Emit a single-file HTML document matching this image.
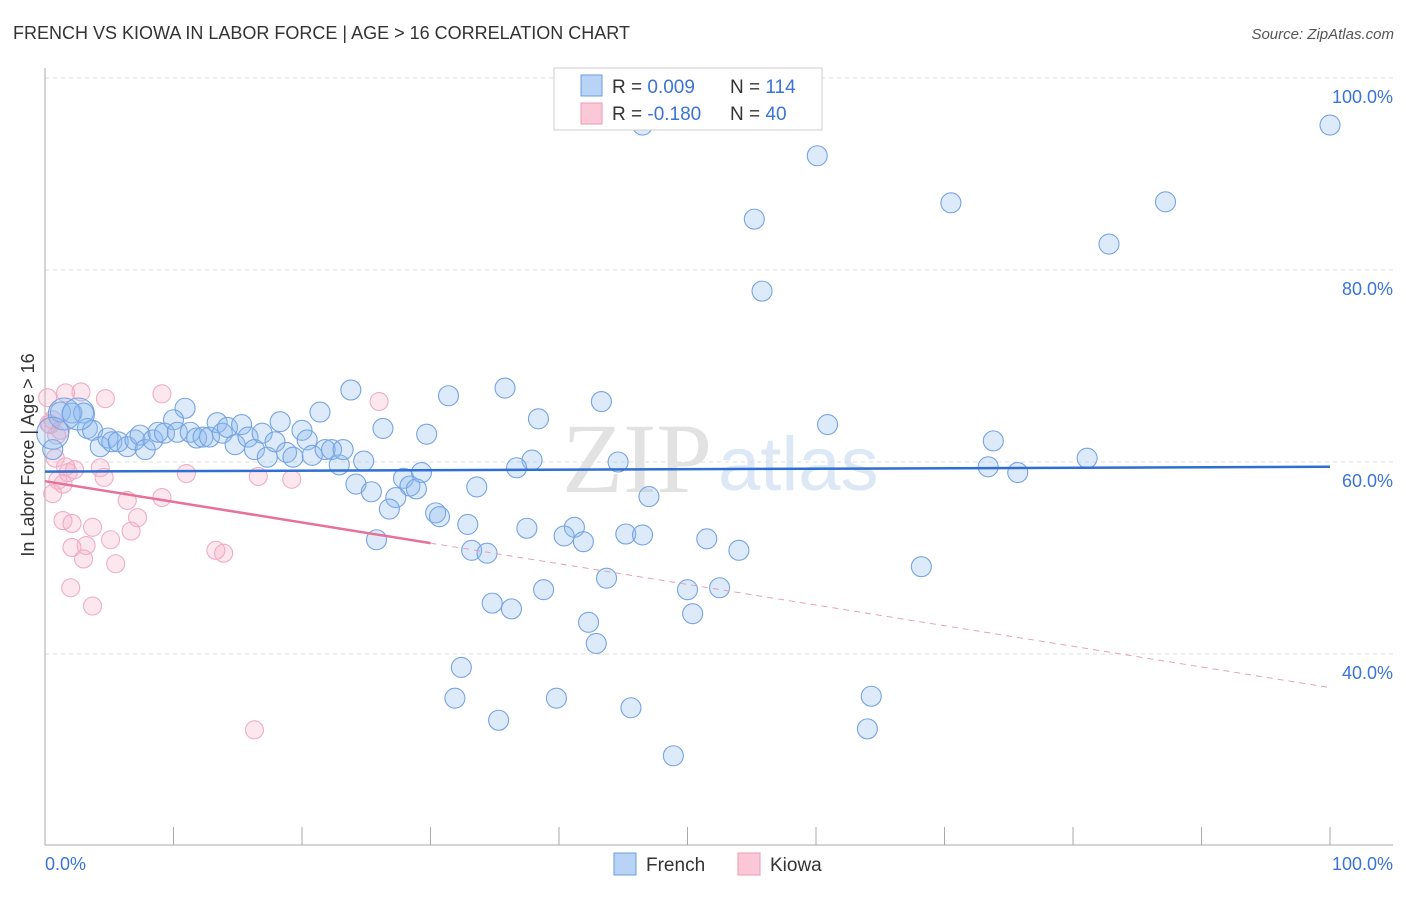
<!DOCTYPE html>
<html><head><meta charset="utf-8"><style>
body{margin:0;background:#fff;font-family:"Liberation Sans",sans-serif}
</style></head><body>
<svg width="1406" height="892" xmlns="http://www.w3.org/2000/svg">
<text x="13" y="39" font-size="18" fill="#333">FRENCH VS KIOWA IN LABOR FORCE | AGE &gt; 16 CORRELATION CHART</text>
<text x="1394" y="39" font-size="15" fill="#555" font-style="italic" text-anchor="end">Source: ZipAtlas.com</text>
<text x="712" y="492" font-size="100" fill="#e2e2e2" text-anchor="end" font-family="Liberation Serif,serif">ZIP</text>
<text x="718" y="490" font-size="76" fill="#dce8f6">atlas</text>
<g id="grid"></g>
<g id="marks"></g>
<text transform="translate(34,455) rotate(-90)" font-size="18" fill="#333" text-anchor="middle">In Labor Force | Age &gt; 16</text>
<text x="45" y="870" font-size="18" fill="#3b74d6">0.0%</text>
<text x="1393" y="870" font-size="18" fill="#3b74d6" text-anchor="end">100.0%</text>
<g>
<rect x="554" y="68" width="268" height="62" fill="#fff" stroke="#ccc"/>
<rect x="581" y="75" width="21" height="21" fill="#b8d3f5" stroke="#6a9ee0"/>
<rect x="581" y="103" width="21" height="21" fill="#fbc8d8" stroke="#ec9ab8"/>
<text x="612" y="93" font-size="19" fill="#333">R = <tspan fill="#3b74d6">0.009</tspan><tspan x="730">N = </tspan><tspan fill="#3b74d6">114</tspan></text>
<text x="612" y="120" font-size="19" fill="#333">R = <tspan fill="#3b74d6">-0.180</tspan><tspan x="730">N = </tspan><tspan fill="#3b74d6"> 40</tspan></text>
</g>
<g>
<rect x="614" y="853" width="22" height="22" fill="#b8d3f5" stroke="#6a9ee0"/>
<text x="646" y="871" font-size="19" fill="#333">French</text>
<rect x="738" y="853" width="22" height="22" fill="#fbc8d8" stroke="#ec9ab8"/>
<text x="770" y="871" font-size="19" fill="#333">Kiowa</text>
</g>
</svg>
<script>
const yTicks=[40,60,80,100];
const frenchX=[46.5,100,60.1,70.5,87.2,55.2,82.8,55.8,23.8,35.8,31.4,43.3,21.4,38.4,10.9,60.9,26.3,29.7,73.8,81.1,73.4,75.7,44.6,37.9,36.7,24.8,22.9,29.3,27.9,24.2,33.6,28.4,28.9,25.4,27.3,26.8,47.0,30.4,30.7,32.9,37.5,41.2,40.4,41.9,45.2,46.5,51.5,25.8,54.0,33.2,34.4,68.2,43.7,38.8,50.0,52.5,34.8,36.3,50.4,42.3,42.9,32.4,31.9,39.8,64.3,45.6,35.3,64.0,48.9,
1.2,2.1,3.0,3.3,3.7,0.6,4.3,4.9,5.2,5.7,6.4,7.0,7.4,7.8,8.4,8.8,9.3,10.0,10.3,11.3,11.8,12.3,12.8,13.4,13.8,14.2,14.8,15.3,15.8,16.3,16.9,17.3,17.9,18.3,18.8,19.3,20.0,20.4,20.8,21.8,22.3,23.2,1.5,0.6,2.6];
const frenchY=[95.1,95.1,91.9,87.0,87.1,85.3,82.7,77.8,67.5,67.7,66.9,66.3,65.2,64.5,65.6,63.9,63.5,62.9,62.2,60.4,59.5,58.9,60.0,60.2,59.4,60.1,59.7,58.9,58.3,57.7,57.4,57.5,57.2,56.9,56.3,55.1,56.4,54.7,54.3,53.5,53.1,53.2,52.3,51.7,52.5,52.4,52.0,51.9,50.8,50.8,50.5,49.1,47.9,46.7,46.7,46.9,45.3,44.7,44.2,43.3,41.1,38.6,35.4,35.4,35.6,34.4,33.1,32.2,29.4,
65.2,65.1,65.1,63.5,63.3,61.3,61.6,62.5,62.1,62.1,61.6,62.3,62.8,61.3,62.3,63.1,63.0,64.4,63.1,63.1,62.5,62.6,62.6,64.1,63.0,63.6,61.8,63.9,62.6,61.3,63.0,60.5,62.1,64.2,61.0,60.5,63.3,62.3,60.7,61.3,61.3,61.3,65.0,63.0,65.0];
const kiowaX=[0.2,1.6,2.8,4.7,9.1,26.0,0.6,1.2,0.8,1.6,1.8,2.3,4.3,4.6,11.0,16.6,19.2,1.0,1.4,0.6,6.4,9.1,7.2,1.4,2.1,3.7,6.7,5.1,2.1,3.2,3.0,5.5,13.3,13.9,2.0,3.7,16.3,0.4,0.9,0.3];
const kiowaY=[66.7,67.2,67.3,66.6,67.1,66.3,64.4,63.3,60.4,59.5,58.9,59.2,59.4,58.4,58.8,58.5,58.2,58.1,57.7,56.7,56.0,56.3,54.2,53.9,53.6,53.2,52.8,51.9,51.1,51.3,49.9,49.4,50.8,50.5,46.9,45.0,32.1,63.9,62.8,64.0];
const frenchTrend=[59.0,59.5];
const kiowaTrend=[58.0,36.5];
const kiowaSolidEnd=30;
const NS="http://www.w3.org/2000/svg";
const X=v=>45+v*12.85, Y=v=>462-(v-60)*9.6;
function mk(tag,attrs,parent){const e=document.createElementNS(NS,tag);for(const k in attrs)e.setAttribute(k,attrs[k]);parent.appendChild(e);return e;}
const grid=document.getElementById('grid'), marks=document.getElementById('marks');
yTicks.forEach(t=>{
 const l=mk('line',{x1:45,x2:1393,y1:Y(t),y2:Y(t),stroke:'#ddd','stroke-dasharray':'4,4'},grid);
 
 
 const tx=mk('text',{x:1393,y:Y(t)+25,'font-size':18,fill:'#3b74d6','text-anchor':'end'},grid);
 tx.textContent=t.toFixed(1)+'%';
 
 
});
const ax=mk('line',{x1:45,x2:45,y1:68,y2:845,stroke:'#aaa'},grid);


const bx=mk('line',{x1:45,x2:1393,y1:845,y2:845,stroke:'#aaa'},grid);


for(let k=1;k<=10;k++){const t=mk('line',{x1:X(k*10),x2:X(k*10),y1:827,y2:845,stroke:'#aaa'},grid);
 
 }
kiowaX.forEach((x,i)=>{const c=mk('circle',{cx:X(x),cy:Y(kiowaY[i]),r:9,fill:'rgba(246,175,200,0.3)',stroke:'#efadc5','stroke-width':1.1},marks);
 
 });
frenchX.forEach((x,i)=>{const big=i>=frenchX.length-3;const c=mk('circle',{cx:X(x),cy:Y(frenchY[i]),r:big?16:10,fill:'rgba(140,185,240,0.3)',stroke:'#76a4e2','stroke-width':1.1},marks);
 
 });
const ft=mk('line',{x1:X(0),y1:Y(frenchTrend[0]),x2:X(100),y2:Y(frenchTrend[1]),stroke:'#2f6fd4','stroke-width':2.5},marks);


const ky=x=>kiowaTrend[0]+(kiowaTrend[1]-kiowaTrend[0])*x/100;
const ks=mk('line',{x1:X(0),y1:Y(ky(0)),x2:X(kiowaSolidEnd),y2:Y(ky(kiowaSolidEnd)),stroke:'#e8709a','stroke-width':2.5},marks);


const kd=mk('line',{x1:X(kiowaSolidEnd),y1:Y(ky(kiowaSolidEnd)),x2:X(100),y2:Y(ky(100)),stroke:'#e8a0bb','stroke-width':1,'stroke-dasharray':'6,5'},marks);


</script>
</body></html>
